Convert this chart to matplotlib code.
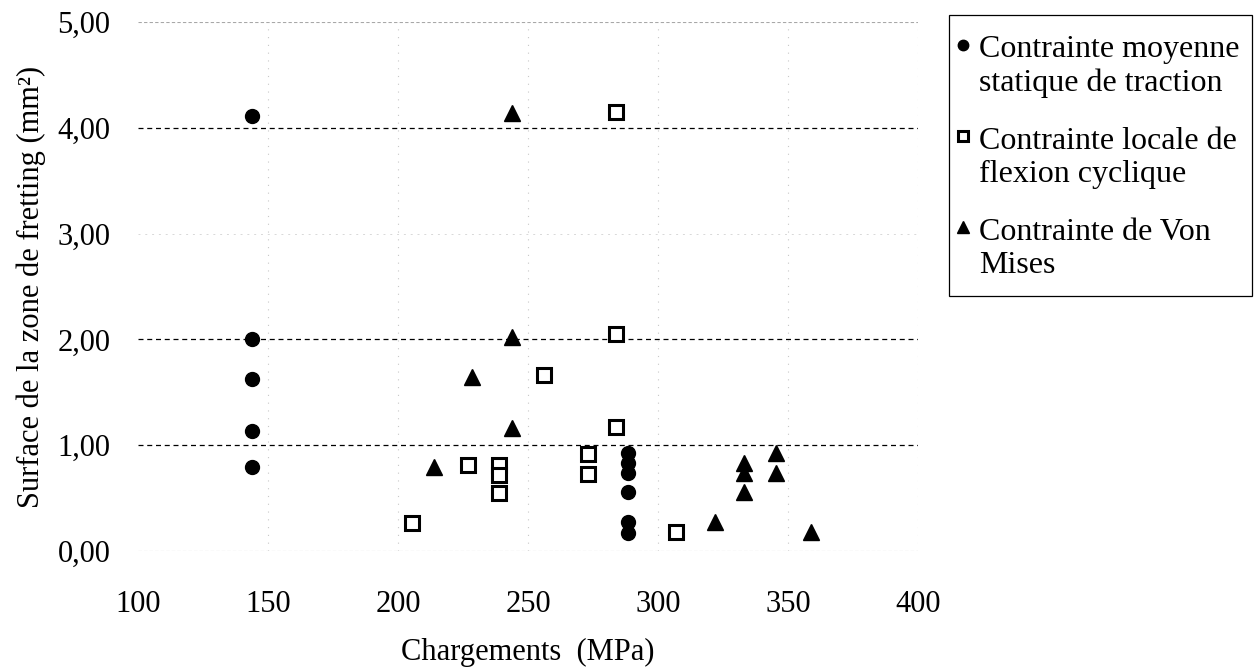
import matplotlib
matplotlib.use("Agg")
import matplotlib.pyplot as plt
from matplotlib.patches import Rectangle
from matplotlib.legend_handler import HandlerLine2D
from matplotlib.ticker import FuncFormatter, MultipleLocator

plt.rcParams['font.family'] = ['Liberation Serif', 'DejaVu Serif']

# ── Data ──────────────────────────────────────────────────────────────────────
moy_x = [144, 144, 144, 144, 144, 288.5, 288.5, 288.5, 288.5, 288.5, 288.5]
moy_y = [4.11, 2.00, 1.63, 1.13, 0.79, 0.93, 0.83, 0.74, 0.56, 0.27, 0.17]

loc_x = [205.5, 227, 239, 239, 239, 256, 273, 273, 284, 284, 284, 307]
loc_y = [0.26, 0.81, 0.81, 0.72, 0.55, 1.66, 0.92, 0.73, 4.15, 2.05, 1.17, 0.18]

vm_x = [214, 228.5, 244, 244, 244, 322, 333, 333, 333, 345.5, 345.5, 359]
vm_y = [0.79, 1.64, 4.14, 2.02, 1.16, 0.27, 0.83, 0.74, 0.56, 0.93, 0.74, 0.18]

labels = ["Contrainte moyenne\nstatique de traction",
          "Contrainte locale de\nflexion cyclique",
          "Contrainte de Von\nMises"]

x_ticks = [100, 150, 200, 250, 300, 350, 400]
grid_strong = [1, 2, 4]
grid_faint = [0, 5]
grid_ghost = [3]


class FirstLineHandler(HandlerLine2D):
    """put the legend marker level with the first line of a 2-line label"""
    def create_artists(self, legend, orig_handle, xdescent, ydescent,
                       width, height, fontsize, trans):
        arts = super().create_artists(legend, orig_handle, xdescent, ydescent,
                                      width, height, fontsize, trans)
        for a in arts:
            a.set_ydata([y + 0.68 * fontsize for y in a.get_ydata()])
        return arts


# ── Figure ────────────────────────────────────────────────────────────────────
W, H = 1255, 670
fig = plt.figure(figsize=(W / 100, H / 100), dpi=100)
ax = fig.add_axes([0.110, 0.1776, 0.6215, 0.7896])

ax.plot(moy_x, moy_y, linestyle="none", marker="o", ms=10, color="black",
        label=labels[0], zorder=4)
ax.plot(loc_x, loc_y, linestyle="none", marker="s", ms=10, mfc="white",
        mec="black", mew=2.2, label=labels[1], zorder=4)
ax.plot(vm_x, vm_y, linestyle="none", marker="^", ms=11.5, color="black",
        label=labels[2], zorder=4)

# gridlines: the scan keeps 1, 2 and 4 dark, the rest faded
for g in grid_strong:
    ax.axhline(g, color="black", lw=0.9, ls=(0, (4, 3)), zorder=1)
for g in grid_faint:
    ax.axhline(g, color="#a8a8a8", lw=0.8, ls=(0, (3, 2)), zorder=1)
for g in grid_ghost:
    ax.axhline(g, color="#d8d8d8", lw=0.7, ls=(0, (2, 5)), zorder=1)
for xv in x_ticks[1:]:
    ax.axvline(xv, color="#c8c8c8", lw=0.8, ls=(0, (1, 6)), zorder=1)

ax.set_xlim(100, 400)
ax.set_ylim(0, 5)
ax.set_xticks(x_ticks)
ax.yaxis.set_major_locator(MultipleLocator(1))
ax.yaxis.set_major_formatter(FuncFormatter(lambda v, p: f"{v:.2f}".replace(".", ",")))

for s in ax.spines.values():
    s.set_visible(False)
ax.tick_params(length=0, labelsize=22)
ax.tick_params(axis="x", pad=28)
ax.tick_params(axis="y", pad=20)

ax.set_xlabel("Chargements  (MPa)", fontsize=22, labelpad=14)
ax.set_ylabel("Surface de la zone de fretting (mm²)", fontsize=22, labelpad=8)

# legend without its own frame; the box is drawn separately (scan proportions)
leg = ax.legend(loc="upper left", bbox_to_anchor=(955 / W, 1 - 35 / H),
                bbox_transform=fig.transFigure, fontsize=23, frameon=False,
                handlelength=0.5, handletextpad=0.25, markerscale=0.75,
                labelspacing=0.9, borderpad=0.0, borderaxespad=0.0,
                handler_map={plt.Line2D: FirstLineHandler()})
for t in leg.get_texts():
    t.set_linespacing(1.2)

fig.add_artist(Rectangle((949 / W, 1 - 296 / H), (1252 - 949) / W, (296 - 15) / H,
                         transform=fig.transFigure, fill=False,
                         edgecolor="black", lw=0.9))

fig.savefig("out.png", dpi=100, facecolor="white")
